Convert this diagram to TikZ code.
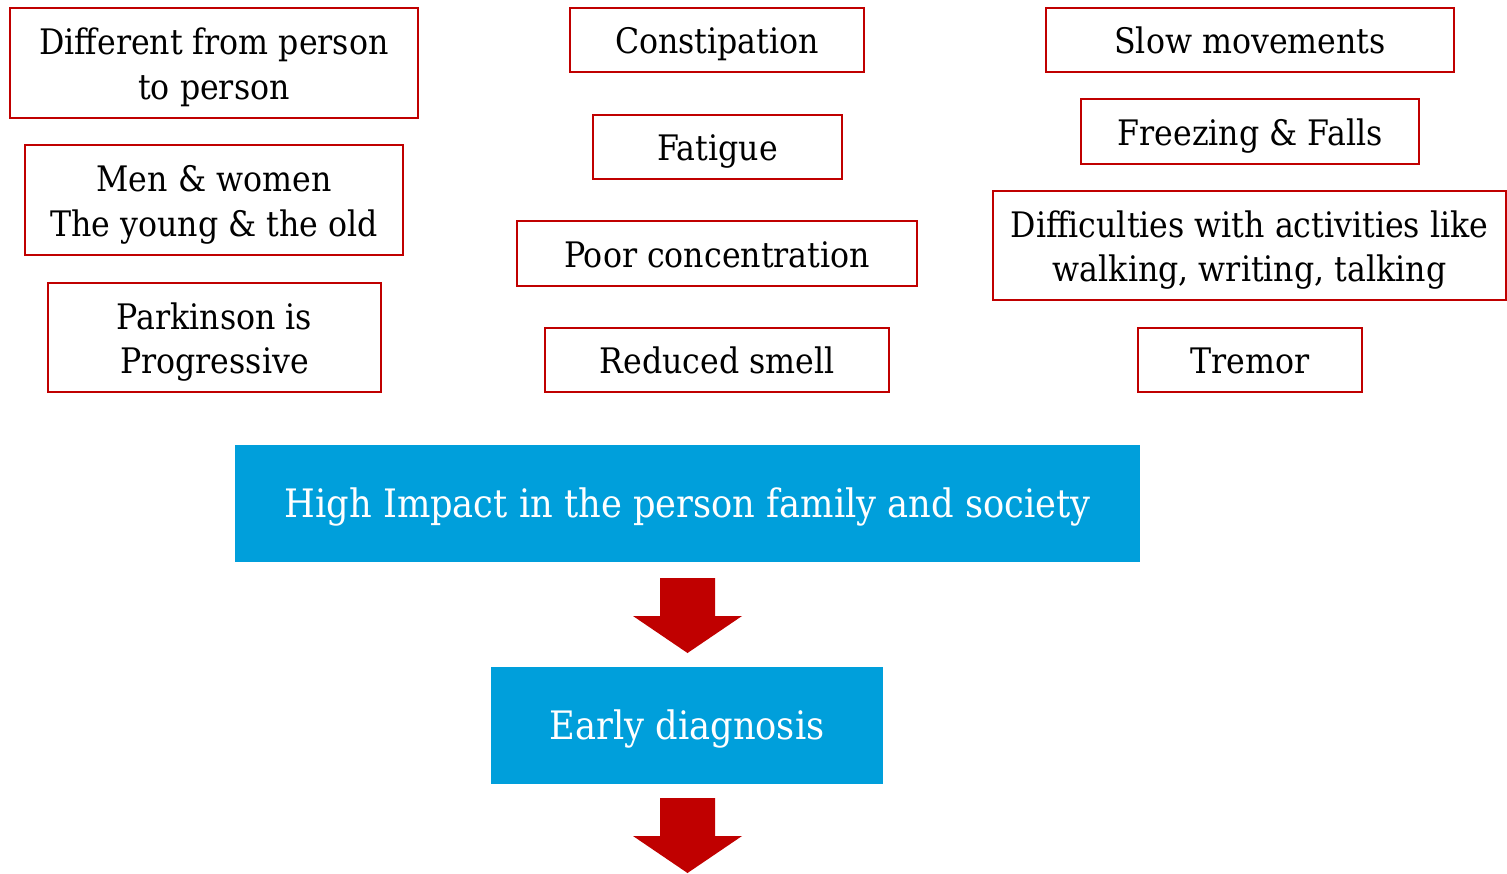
\documentclass[tikz,border=0pt]{standalone}
\usepackage{fontspec}
\setmainfont{DejaVu Serif Condensed}
\definecolor{boxred}{HTML}{C00000}
\definecolor{boxblue}{HTML}{009FDB}
\begin{document}
\begin{tikzpicture}[
                    x=0.02cm, y=-0.02cm,
                    redbox/.style={draw=boxred, line width=1.1pt, align=center, inner sep=0pt, text height=18pt, text depth=2.1pt, font=\fontsize{20}{25.5}\selectfont},
                    twolines/.style={text height=43.5pt, text depth=2.1pt},
                    bluebox/.style={fill=boxblue, text=white, inner sep=0pt, minimum height=2.34cm, text height=20pt, text depth=4.1pt, font=\fontsize{22.3}{27}\selectfont},
                    downarrow/.style={fill=boxred}
                ]
                \useasboundingbox (0,0) rectangle (1507,873);
                % left column
                \node[redbox, twolines, minimum width=8.16cm, minimum height=2.2cm] (diff) at (214,63) {Different from person\\to person};
                \node[redbox, twolines, minimum width=7.56cm, minimum height=2.2cm] (men) at (214,200) {Men \& women\\The young \& the old};
                \node[redbox, twolines, minimum width=6.66cm, minimum height=2.18cm] (prog) at (214.5,337.5) {Parkinson is\\Progressive};
                % middle column
                \node[redbox, minimum width=5.88cm, minimum height=1.28cm] (const) at (717,40) {Constipation};
                \node[redbox, minimum width=4.98cm, minimum height=1.28cm] (fatigue) at (717.5,147) {Fatigue};
                \node[redbox, minimum width=8.0cm, minimum height=1.3cm] (conc) at (717,253.5) {Poor concentration};
                \node[redbox, minimum width=6.88cm, minimum height=1.28cm] (smell) at (717,360) {Reduced smell};
                % right column
                \node[redbox, minimum width=8.16cm, minimum height=1.28cm] (slow) at (1250,40) {Slow movements};
                \node[redbox, minimum width=6.76cm, minimum height=1.3cm] (freeze) at (1250,131.5) {Freezing \& Falls};
                \node[redbox, twolines, minimum width=10.26cm, minimum height=2.18cm] (activ) at (1249.5,245.5) {Difficulties with activities like\\walking, writing, talking};
                \node[redbox, minimum width=4.48cm, minimum height=1.28cm] (tremor) at (1250,360) {Tremor};
                % impact and diagnosis
                \node[bluebox, minimum width=18.1cm] (impact) at (687.5,503.5) {High Impact in the person family and society};
                \node[bluebox, minimum width=7.84cm] (early) at (687,725.5) {Early diagnosis};
                \coordinate (arrA) at (687.5,578);
                \coordinate (arrB) at (687.5,798);
                \foreach \a in {arrA, arrB}
                    \fill[downarrow, shift={(\a)}] (-27.5,0) -- (27.5,0) -- (27.5,38) -- (54.5,38) -- (0,75) -- (-54.5,38) -- (-27.5,38) -- cycle;
                \end{tikzpicture}
\end{document}
